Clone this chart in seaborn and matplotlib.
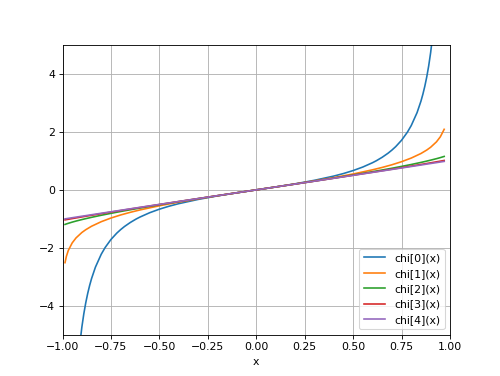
import matplotlib
matplotlib.use("Agg")
import pandas as pd
import seaborn as sns
import matplotlib.pyplot as plt

# sample points along x (shared by chi[1]..chi[4])
x = [-0.987, -0.98, -0.97, -0.95, -0.93, -0.90, -0.88, -0.85, -0.80, -0.75, -0.70, -0.65,
     -0.60, -0.50, -0.40, -0.30, -0.20, -0.10, 0.00, 0.10, 0.20, 0.30, 0.40, 0.50,
     0.60, 0.65, 0.70, 0.75, 0.80, 0.85, 0.88, 0.90, 0.93, 0.95, 0.97]

# chi[0] is steep near the ends, so it gets a denser grid
x0 = [-0.93, -0.92, -0.91, -0.90, -0.89, -0.88, -0.87, -0.86, -0.85, -0.83, -0.80, -0.78,
      -0.75, -0.72, -0.70, -0.68, -0.65, -0.62, -0.60, -0.55, -0.50, -0.45, -0.40, -0.30,
      -0.20, -0.10, 0.00, 0.10, 0.20, 0.30, 0.40, 0.45, 0.50, 0.55, 0.60, 0.62,
      0.65, 0.68, 0.70, 0.72, 0.75, 0.78, 0.80, 0.83, 0.85, 0.86, 0.87, 0.88,
      0.89, 0.90, 0.91, 0.92, 0.93]

chi0 = [-6.884, -5.990, -5.294, -4.737, -4.281, -3.901, -3.579, -3.303, -3.063, -2.668, -2.222, -1.992,
        -1.714, -1.495, -1.373, -1.265, -1.126, -1.007, -0.938, -0.789, -0.667, -0.564, -0.476, -0.330,
        -0.208, -0.101, 0.0, 0.101, 0.208, 0.330, 0.476, 0.564, 0.667, 0.789, 0.938, 1.007,
        1.126, 1.265, 1.373, 1.495, 1.714, 1.992, 2.222, 2.668, 3.063, 3.303, 3.579, 3.901,
        4.281, 4.737, 5.294, 5.990, 6.884]

chi1 = [-2.515, -2.298, -2.092, -1.832, -1.658, -1.472, -1.376, -1.256, -1.099, -0.973,
        -0.867, -0.775, -0.693, -0.549, -0.424, -0.310, -0.203, -0.100, 0.0, 0.100,
        0.203, 0.310, 0.424, 0.549, 0.693, 0.775, 0.867, 0.973, 1.099, 1.256,
        1.376, 1.472, 1.658, 1.832, 2.092]

chi2 = [-1.194, -1.177, -1.155, -1.114, -1.077, -1.026, -0.994, -0.948, -0.877, -0.811,
        -0.747, -0.687, -0.628, -0.515, -0.408, -0.303, -0.201, -0.100, 0.0, 0.100,
        0.201, 0.303, 0.408, 0.515, 0.628, 0.687, 0.747, 0.811, 0.877, 0.948,
        0.994, 1.026, 1.077, 1.114, 1.155]

chi3 = [-1.036, -1.027, -1.016, -0.992, -0.969, -0.934, -0.911, -0.878, -0.822, -0.768,
        -0.714, -0.661, -0.609, -0.505, -0.402, -0.301, -0.200, -0.100, 0.0, 0.100,
        0.200, 0.301, 0.402, 0.505, 0.609, 0.661, 0.714, 0.768, 0.822, 0.878,
        0.911, 0.934, 0.969, 0.992, 1.016]

chi4 = [-1.001, -0.994, -0.983, -0.962, -0.941, -0.910, -0.890, -0.858, -0.807, -0.756,
        -0.705, -0.654, -0.603, -0.502, -0.401, -0.300, -0.200, -0.100, 0.0, 0.100,
        0.200, 0.300, 0.401, 0.502, 0.603, 0.654, 0.705, 0.756, 0.807, 0.858,
        0.890, 0.910, 0.941, 0.962, 0.983]

series = [("chi[0](x)", x0, chi0), ("chi[1](x)", x, chi1), ("chi[2](x)", x, chi2),
          ("chi[3](x)", x, chi3), ("chi[4](x)", x, chi4)]

# 6.4x4.8 inch figure rendered down to ~500x376
fig, ax = plt.subplots(figsize=(6.4, 4.813), dpi=78.125)
for name, xs, ys in series:
    df = pd.DataFrame({"x": xs, "y": ys})
    sns.lineplot(data=df, x="x", y="y", label=name, ax=ax, sort=False)

ax.set_xlim(-1, 1)
ax.set_ylim(-5, 5)
ax.set_xlabel("x")
ax.set_ylabel("")
ax.grid(True)
ax.legend(loc="lower right")
fig.savefig("out.png", dpi=78.125)
